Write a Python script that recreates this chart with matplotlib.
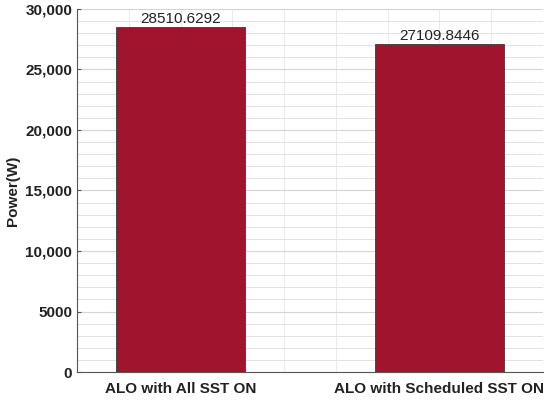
import numpy as np
import matplotlib
matplotlib.use('Agg')
import matplotlib.pyplot as plt
from matplotlib.ticker import MultipleLocator

categories = ['ALO with All SST ON', 'ALO with Scheduled SST ON']
power = [28510.6292, 27109.8446]
value_labels = ['28510.6292', '27109.8446']
y_ticks = [0, 5000, 10000, 15000, 20000, 25000, 30000]
y_tick_labels = ['0', '5000', '10,000', '15,000', '20,000', '25,000', '30,000']

plt.rcParams['font.family'] = ['Liberation Sans', 'DejaVu Sans']

fig = plt.figure(figsize=(5.5, 4), dpi=100)
ax = fig.add_axes([0.14, 0.07, 0.847, 0.9075])

x = np.arange(1, len(categories) + 1)
bars = ax.bar(x, power, width=0.5, color='#A0142E', edgecolor='#3a3a3a',
              linewidth=0.6, zorder=3)

# Werte über den Balken
for xi, v, lab in zip(x, power, value_labels):
    ax.text(xi, v + 120, lab, ha='center', va='bottom', fontsize=11,
            color='#222222', zorder=4)

ax.set_xlim(0.6, 2.4)
ax.set_ylim(0, 30000)
ax.set_xticks(x)
ax.set_xticklabels(categories, fontsize=11, fontweight='bold', color='#222222')
ax.set_yticks(y_ticks)
ax.set_yticklabels(y_tick_labels, fontsize=11, fontweight='bold', color='#222222')
ax.xaxis.set_minor_locator(MultipleLocator(0.2))
ax.yaxis.set_minor_locator(MultipleLocator(1000))

ax.grid(which='major', axis='y', color='#d4d4d4', linewidth=0.8, zorder=0)
ax.grid(which='minor', axis='y', color='#e2e2e2', linewidth=0.7, zorder=0)
ax.grid(which='minor', axis='x', color='#ebebeb', linewidth=0.7, zorder=0)
ax.grid(which='major', axis='x', color='#ebebeb', linewidth=0.7, zorder=0)

ax.tick_params(axis='both', which='both', direction='in', length=3, color='#555555')
ax.tick_params(which='minor', length=0)
ax.tick_params(axis='x', pad=7)

for s in ['top', 'right']:
    ax.spines[s].set_visible(False)
for s in ['left', 'bottom']:
    ax.spines[s].set_color('#555555')
    ax.spines[s].set_linewidth(0.8)

ax.set_ylabel('Power(W)', fontsize=11, fontweight='bold', color='#222222')

fig.savefig('out.png', dpi=100)
